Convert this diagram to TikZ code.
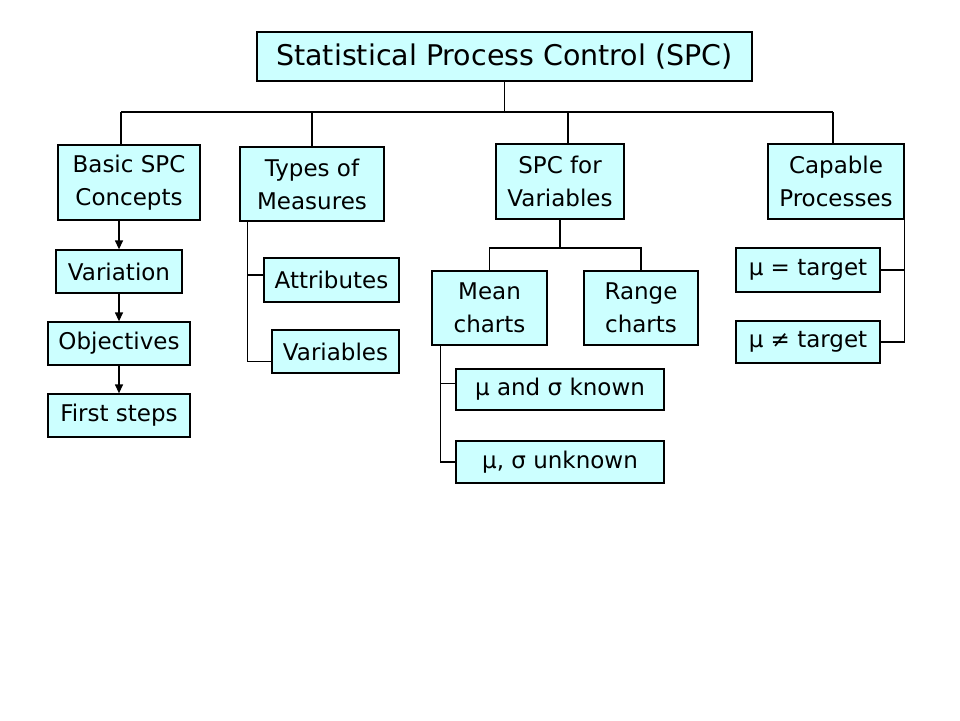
\documentclass[tikz,border=0pt]{standalone}
\usepackage{fontspec}
\setmainfont{DejaVu Sans}
\usetikzlibrary{arrows.meta}
\definecolor{boxfill}{HTML}{CCFFFF}
\begin{document}
\begin{tikzpicture}[x=1pt,y=-1pt,line width=1.3pt,
		box/.style = {shape=rectangle, draw, fill=boxfill, align=center,
			inner sep=0pt, font=\fontsize{23}{33}\selectfont},
		arr/.style = {-{Triangle[length=9pt,width=8pt]}}]
	\useasboundingbox (0,0) rectangle (960,720);
	\node[box, minimum width=495pt, minimum height=49pt,
		font=\fontsize{28.5}{34}\selectfont] (spc) at (504.5,56.5) {Statistical Process Control (SPC)};
	\node[box, minimum width=142pt, minimum height=75pt] (basic) at (129,182.5) {Basic SPC\\Concepts};
	\node[box, minimum width=144pt, minimum height=74pt] (types) at (312,184) {Types of\\Measures};
	\node[box, minimum width=128pt, minimum height=75pt] (spcvar) at (560,181.5) {SPC for\\Variables};
	\node[box, minimum width=136pt, minimum height=75pt] (capable) at (836,181.5) {Capable\\Processes};
	\node[box, minimum width=126pt, minimum height=43pt] (variation) at (119,271.5) {Variation};
	\node[box, minimum width=142pt, minimum height=43pt] (objectives) at (119,343.5) {Objectives};
	\node[box, minimum width=142pt, minimum height=43pt] (firststeps) at (119,415.5) {First steps};
	\node[box, minimum width=135pt, minimum height=44pt] (attributes) at (331.5,280) {Attributes};
	\node[box, minimum width=127pt, minimum height=43pt] (variables) at (335.5,351.5) {Variables};
	\node[box, minimum width=115pt, minimum height=74pt] (mean) at (489.5,308) {Mean\\charts};
	\node[box, minimum width=114pt, minimum height=74pt] (range) at (641,308) {Range\\charts};
	\node[box, minimum width=208pt, minimum height=41pt] (known) at (560,389.5) {μ and σ known};
	\node[box, minimum width=208pt, minimum height=42pt] (unknown) at (560,462) {μ, σ unknown};
	\node[box, minimum width=144pt, minimum height=44pt] (ontarget) at (808,270) {μ = target};
	\node[box, minimum width=144pt, minimum height=42pt] (offtarget) at (808,342) {μ ≠ target};
	\coordinate (busL) at (121,112);
	\coordinate (busR) at (833,112);
	\coordinate (busV) at (568,112);
	\coordinate (split) at (560,248);
	\draw (spc.south) -- (spc.south |- busL);
	\draw (busL) -- (busR);
	\draw (busL) -- (busL |- basic.north);
	\draw (types.north) -- (types.north |- busL);
	\draw (busV) -- (busV |- spcvar.north);
	\draw (busR) -- (busR |- capable.north);
	\draw[arr] (basic.south -| variation) -- (variation.north);
	\draw[arr] (variation) -- (objectives);
	\draw[arr] (objectives) -- (firststeps);
	\draw ([xshift=8pt]types.south west) |- ([yshift=5pt]attributes.west);
	\draw ([xshift=8pt]types.south west) |- ([yshift=-10pt]variables.west);
	\draw (spcvar.south) -- (split);
	\draw (mean.north) |- (split) -| (range.north);
	\draw ([xshift=9pt]mean.south west) |- ([yshift=6pt]known.west);
	\draw ([xshift=9pt]mean.south west) |- (unknown.west);
	\draw (capable.south east) |- (ontarget.east);
	\draw (capable.south east) |- (offtarget.east);
\end{tikzpicture}
\end{document}
